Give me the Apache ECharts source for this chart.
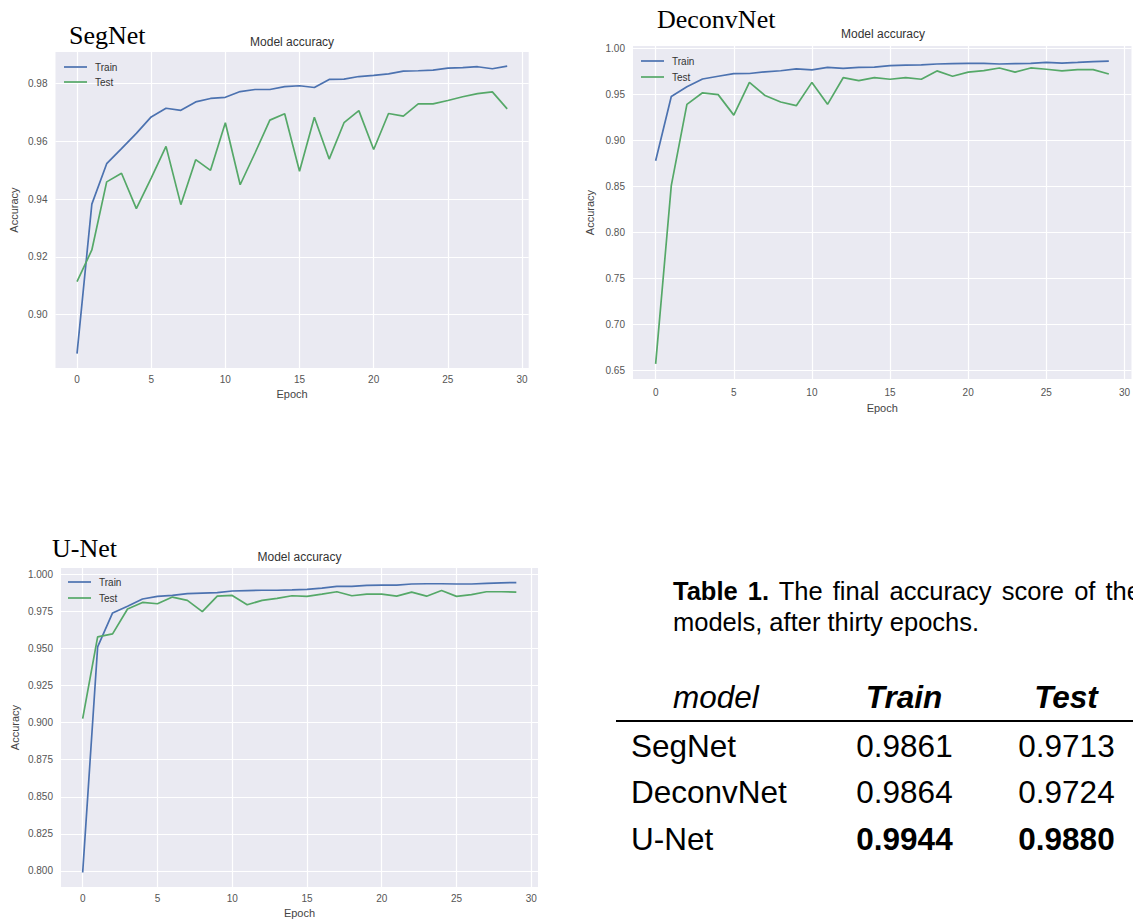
<!DOCTYPE html>
<html>
<head>
<meta charset="utf-8">
<script src="https://cdn.jsdelivr.net/npm/echarts@6/dist/echarts.min.js"></script>
<style>
    html, body { margin: 0; padding: 0; background: #fff; }
    body { width: 1133px; height: 919px; overflow: hidden; position: relative; font-family: "Liberation Sans", Arial, sans-serif; }
    #charts { position: absolute; left: 0; top: 0; width: 1133px; height: 919px; }
    #table { position: absolute; left: 0; top: 0; width: 1133px; height: 919px; color: #000; pointer-events: none; }
    .cell { position: absolute; white-space: nowrap; }
</style>
</head>
<body>
<div id="charts"></div>
<div id="table"></div>
<script>
    // epochs 0..29
    var epochs = [0, 1, 2, 3, 4, 5, 6, 7, 8, 9, 10, 11, 12, 13, 14, 15, 16, 17, 18, 19, 20, 21, 22, 23, 24, 25, 26, 27, 28, 29];

    // SegNet
    var segnetTrain = [0.8865, 0.9383, 0.9523, 0.9575, 0.9628, 0.9685, 0.9715, 0.9708, 0.9737, 0.9749, 0.9753, 0.9773, 0.9780, 0.9780, 0.9790, 0.9793, 0.9787, 0.9815, 0.9816, 0.9825, 0.9829, 0.9834, 0.9844, 0.9845, 0.9847, 0.9854, 0.9856, 0.9859, 0.9852, 0.9861];
    var segnetTest = [0.9114, 0.9224, 0.9460, 0.9490, 0.9367, 0.9473, 0.9583, 0.9381, 0.9537, 0.9500, 0.9665, 0.9450, 0.9560, 0.9674, 0.9696, 0.9497, 0.9684, 0.9539, 0.9665, 0.9707, 0.9572, 0.9697, 0.9688, 0.9730, 0.9730, 0.9742, 0.9755, 0.9766, 0.9772, 0.9713];

    // DeconvNet
    var deconvTrain = [0.8780, 0.9480, 0.9585, 0.9670, 0.9700, 0.9728, 0.9730, 0.9748, 0.9760, 0.9780, 0.9770, 0.9796, 0.9786, 0.9796, 0.9800, 0.9816, 0.9820, 0.9823, 0.9833, 0.9837, 0.9840, 0.9840, 0.9833, 0.9837, 0.9840, 0.9850, 0.9843, 0.9850, 0.9860, 0.9864];
    var deconvTest = [0.6570, 0.8510, 0.9394, 0.9520, 0.9500, 0.9277, 0.9633, 0.9490, 0.9420, 0.9380, 0.9633, 0.9394, 0.9684, 0.9653, 0.9684, 0.9667, 0.9684, 0.9667, 0.9758, 0.9700, 0.9745, 0.9762, 0.9790, 0.9745, 0.9790, 0.9776, 0.9758, 0.9772, 0.9772, 0.9724];

    // U-Net
    var unetTrain = [0.7990, 0.9510, 0.9739, 0.9784, 0.9833, 0.9851, 0.9857, 0.9869, 0.9873, 0.9876, 0.9887, 0.9890, 0.9892, 0.9892, 0.9894, 0.9898, 0.9907, 0.9918, 0.9918, 0.9925, 0.9927, 0.9927, 0.9934, 0.9936, 0.9936, 0.9934, 0.9934, 0.9938, 0.9942, 0.9944];
    var unetTest = [0.9027, 0.9578, 0.9598, 0.9766, 0.9810, 0.9801, 0.9846, 0.9824, 0.9748, 0.9852, 0.9857, 0.9794, 0.9824, 0.9837, 0.9855, 0.9851, 0.9866, 0.9882, 0.9855, 0.9866, 0.9866, 0.9852, 0.9879, 0.9852, 0.9890, 0.9851, 0.9862, 0.9882, 0.9882, 0.9880];

    // tick labels
    var epochTicks = [0, 5, 10, 15, 20, 25, 30];
    var segnetTicks = [0.90, 0.92, 0.94, 0.96, 0.98];
    var deconvTicks = [0.65, 0.70, 0.75, 0.80, 0.85, 0.90, 0.95, 1.00];
    var unetTicks = [0.800, 0.825, 0.850, 0.875, 0.900, 0.925, 0.950, 0.975, 1.000];

    // table 1
    var tableModels = ['SegNet', 'DeconvNet', 'U-Net'];
    var tableTrain = [0.9861, 0.9864, 0.9944];
    var tableTest = [0.9713, 0.9724, 0.9880];

    var TRAIN_COLOR = '#4C72B0';
    var TEST_COLOR = '#55A868';
    var FONT = '"Liberation Sans", Arial, sans-serif';
    // plain line for legend (the empty moves keep the 23x10 box)
    var LINE_ICON = 'path://M0,0 M0,4.15 L23,4.15 L23,5.85 L0,5.85 Z M23,10';

    var panels = [
        {name: 'SegNet', train: segnetTrain, test: segnetTest, ticks: segnetTicks, digits: 2,
            grid: {left: 55.5, top: 52, width: 473.2, height: 316}, yMin: 0.8815, yMax: 0.991,
            nameX: 69, nameY: 35, titleY: 42, legend: {left: 64, top: 62, gap: 5}, labelMargin: 6, xNameGap: 20, yNameGap: 36},
        {name: 'DeconvNet', train: deconvTrain, test: deconvTest, ticks: deconvTicks, digits: 2,
            grid: {left: 633, top: 46, width: 500, height: 333}, yMin: 0.6406, yMax: 1.0029,
            nameX: 657, nameY: 19, titleY: 34, legend: {left: 641, top: 56, gap: 6}, labelMargin: 8, xNameGap: 23, yNameGap: 38},
        {name: 'U-Net', train: unetTrain, test: unetTest, ticks: unetTicks, digits: 3,
            grid: {left: 61, top: 568, width: 477, height: 319}, yMin: 0.7892, yMax: 1.0042,
            nameX: 52, nameY: 548, titleY: 557, legend: {left: 68, top: 577, gap: 6}, labelMargin: 6, xNameGap: 20, yNameGap: 41}
    ];

    var option = {
        animation: false,
        grid: [], xAxis: [], yAxis: [], series: [], legend: [], graphic: []
    };

    panels.forEach(function (p, k) {
        option.grid.push({
            left: p.grid.left, top: p.grid.top, width: p.grid.width, height: p.grid.height,
            show: true, backgroundColor: '#EAEAF2', borderWidth: 0
        });
        option.xAxis.push({
            type: 'value', gridIndex: k, min: -1.45, max: 30.45,
            name: 'Epoch', nameLocation: 'middle', nameGap: p.xNameGap,
            nameTextStyle: {fontFamily: FONT, fontSize: 11, color: '#444'},
            axisLine: {show: false}, axisTick: {show: false, customValues: epochTicks},
            axisLabel: {customValues: epochTicks, margin: p.labelMargin, fontFamily: FONT, fontSize: 10, color: '#555'},
            splitLine: {show: true, lineStyle: {color: '#fff', width: 1.2}}
        });
        option.yAxis.push({
            type: 'value', gridIndex: k, min: p.yMin, max: p.yMax,
            name: 'Accuracy', nameLocation: 'middle', nameGap: p.yNameGap, nameRotate: 90,
            nameTextStyle: {fontFamily: FONT, fontSize: 11, color: '#444'},
            axisLine: {show: false}, axisTick: {show: false, customValues: p.ticks},
            axisLabel: {customValues: p.ticks, margin: 8, fontFamily: FONT, fontSize: 10, color: '#555',
                formatter: function (v) { return v.toFixed(p.digits); }},
            splitLine: {show: true, lineStyle: {color: '#fff', width: 1.2}}
        });
        option.series.push({
            name: 'Train', type: 'line', xAxisIndex: k, yAxisIndex: k, symbol: 'none', silent: true,
            lineStyle: {color: TRAIN_COLOR, width: 1.7}, itemStyle: {color: TRAIN_COLOR},
            data: epochs.map(function (e, i) { return [e, p.train[i]]; })
        });
        option.series.push({
            name: 'Test', type: 'line', xAxisIndex: k, yAxisIndex: k, symbol: 'none', silent: true,
            lineStyle: {color: TEST_COLOR, width: 1.7}, itemStyle: {color: TEST_COLOR},
            data: epochs.map(function (e, i) { return [e, p.test[i]]; })
        });
        option.legend.push({
            data: ['Train', 'Test'], orient: 'vertical', left: p.legend.left, top: p.legend.top,
            padding: 0, icon: LINE_ICON, itemWidth: 23, itemHeight: 10, itemGap: p.legend.gap,
            textStyle: {fontFamily: FONT, fontSize: 10, color: '#333', padding: [0, 0, 0, 3]}
        });
        option.graphic.push({
            type: 'text', x: p.grid.left + p.grid.width / 2, y: p.titleY,
            style: {text: 'Model accuracy', font: '12px ' + FONT, fill: '#333', textAlign: 'center', textVerticalAlign: 'middle'}
        });
        option.graphic.push({
            type: 'text', x: p.nameX, y: p.nameY,
            style: {text: p.name, font: '26px "Liberation Serif", "Times New Roman", serif', fill: '#000', textAlign: 'left', textVerticalAlign: 'middle'}
        });
    });

    var chart = echarts.init(document.getElementById('charts'), null, {renderer: 'svg'});
    chart.setOption(option);

    // table drawn as html text
    var table = document.getElementById('table');
    function addCell(html, css) {
        var d = document.createElement('div');
        d.className = 'cell';
        d.innerHTML = html;
        for (var key in css) d.style[key] = css[key];
        table.appendChild(d);
    }
    // the caption runs past the right edge in the source figure, as here
    addCell('<span style="word-spacing:3px"><b>Table 1.</b> The final accuracy score of the</span><br>models, after thirty epochs.',
        {left: '673px', top: '576px', fontSize: '25.5px', lineHeight: '31px'});

    var rowFont = '31.5px';
    addCell('<i>model</i>', {left: '673px', top: '677px', fontSize: rowFont, lineHeight: '40px'});
    addCell('<b><i>Train</i></b>', {left: '804px', width: '200px', textAlign: 'center', top: '677px', fontSize: rowFont, lineHeight: '40px'});
    addCell('<b><i>Test</i></b>', {left: '966px', width: '200px', textAlign: 'center', top: '677px', fontSize: rowFont, lineHeight: '40px'});
    addCell('', {left: '616px', top: '719.5px', width: '600px', height: '2.2px', background: '#000'});

    var bestTrain = Math.max.apply(null, tableTrain);
    var bestTest = Math.max.apply(null, tableTest);
    var rowCenters = [746, 792, 839];
    tableModels.forEach(function (m, i) {
        var top = (rowCenters[i] - 20) + 'px';
        var tr = tableTrain[i].toFixed(4), te = tableTest[i].toFixed(4);
        addCell(m, {left: '631px', top: top, fontSize: rowFont, lineHeight: '40px'});
        addCell(tableTrain[i] === bestTrain ? '<b>' + tr + '</b>' : tr,
            {left: '804.5px', width: '200px', textAlign: 'center', top: top, fontSize: rowFont, lineHeight: '40px'});
        addCell(tableTest[i] === bestTest ? '<b>' + te + '</b>' : te,
            {left: '966.5px', width: '200px', textAlign: 'center', top: top, fontSize: rowFont, lineHeight: '40px'});
    });
</script>
</body>
</html>
